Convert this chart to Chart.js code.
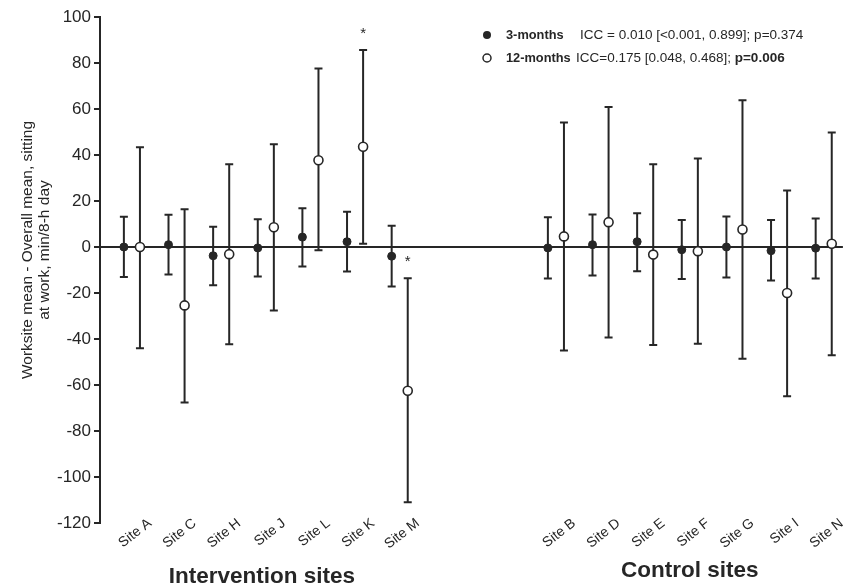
<!DOCTYPE html>
<html>
<head>
<meta charset="utf-8">
<script src="https://cdn.jsdelivr.net/npm/chart.js@4.4.1/dist/chart.umd.min.js"></script>
<style>
  body { margin: 0; background: #fff; }
  #wrap { width: 849px; height: 588px; }
</style>
</head>
<body>
<div id="wrap"><canvas id="chart"></canvas></div>
<script>
// sites, in plot order (intervention first, then control)
const sites = ['Site A', 'Site C', 'Site H', 'Site J', 'Site L', 'Site K', 'Site M',
  'Site B', 'Site D', 'Site E', 'Site F', 'Site G', 'Site I', 'Site N'];
const nIntervention = 7;

// 3-months: mean and 95% CI
const m3 = [0, 1, -3.8, -0.4, 4.3, 2.3, -4, -0.4, 1, 2.3, -1.2, 0, -1.6, -0.5];
const m3Lo = [-13, -12, -16.6, -12.8, -8.5, -10.7, -17.2, -13.7, -12.4, -10.5, -13.9, -13.3, -14.6, -13.7];
const m3Hi = [13.1, 14, 8.8, 12.1, 16.9, 15.3, 9.2, 12.9, 14.1, 14.7, 11.7, 13.3, 11.7, 12.4];

// 12-months: mean and 95% CI
const m12 = [0, -25.4, -3.1, 8.6, 37.7, 43.6, -62.5, 4.6, 10.8, -3.3, -1.8, 7.6, -20, 1.4];
const m12Lo = [-44, -67.6, -42.3, -27.6, -1.4, 1.4, -111, -45, -39.3, -42.6, -42.1, -48.6, -64.9, -47.1];
const m12Hi = [43.4, 16.4, 36, 44.7, 77.6, 85.7, -13.6, 54.1, 60.9, 36, 38.5, 63.8, 24.6, 49.8];

// sites flagged with * (12-months)
const sig12 = ['Site K', 'Site M'];

const groupLabels = ['Intervention sites', 'Control sites'];
const legendRows = [
  { name: '3-months', text: 'ICC = 0.010 [<0.001, 0.899]; p=0.374', bold: '' },
  { name: '12-months', text: 'ICC=0.175 [0.048, 0.468]; ', bold: 'p=0.006' }
];

const yTitle = ['Worksite mean - Overall mean, sitting', 'at work, min/8-h day'];

const FONT = "'Liberation Sans', Arial, sans-serif";
const INK = '#262626';

// slot on the x axis: control group sits after a gap
const pos = (i) => i + 1 + (i >= nIntervention ? 2.5 : 0);
const shift = 0.18;

const pts3 = sites.map((s, i) => ({ x: pos(i) - shift, y: m3[i], lo: m3Lo[i], hi: m3Hi[i] }));
const pts12 = sites.map((s, i) => ({ x: pos(i) + shift, y: m12[i], lo: m12Lo[i], hi: m12Hi[i], star: sig12.includes(s) }));

const errorBars = {
  id: 'errorBars',
  afterLayout(chart) {
    // site names start a little above the bottom of the plot, like the original
    chart.scales.x.top = chart.chartArea.bottom - 8;
  },
  beforeDatasetsDraw(chart) {
    const ctx = chart.ctx;
    const xs = chart.scales.x, ys = chart.scales.y;
    ctx.save();
    ctx.strokeStyle = INK;
    ctx.lineWidth = 2;
    chart.data.datasets.forEach(ds => {
      ds.data.forEach(p => {
        const x = xs.getPixelForValue(p.x);
        const y1 = ys.getPixelForValue(p.hi);
        const y2 = ys.getPixelForValue(p.lo);
        ctx.beginPath();
        ctx.moveTo(x, y1); ctx.lineTo(x, y2);
        ctx.moveTo(x - 4, y1); ctx.lineTo(x + 4, y1);
        ctx.moveTo(x - 4, y2); ctx.lineTo(x + 4, y2);
        ctx.stroke();
      });
    });
    ctx.restore();
  },
  afterDatasetsDraw(chart) {
    const ctx = chart.ctx;
    const xs = chart.scales.x, ys = chart.scales.y;
    ctx.save();
    ctx.fillStyle = INK;
    ctx.font = '15px ' + FONT;
    ctx.textAlign = 'center';
    ctx.textBaseline = 'middle';
    chart.data.datasets.forEach(ds => {
      ds.data.forEach(p => {
        if (!p.star) return;
        ctx.fillText('*', xs.getPixelForValue(p.x), ys.getPixelForValue(p.hi) - 16);
      });
    });
    ctx.restore();
  }
};

const extras = {
  id: 'extras',
  afterDraw(chart) {
    const ctx = chart.ctx;
    const xs = chart.scales.x;
    ctx.save();
    ctx.fillStyle = INK;

    // y title, two lines
    ctx.font = '15.5px ' + FONT;
    ctx.textAlign = 'center';
    ctx.textBaseline = 'middle';
    yTitle.forEach((t, k) => {
      ctx.save();
      ctx.translate(28 + k * 17, 250);
      ctx.rotate(-Math.PI / 2);
      ctx.fillText(t, 0, 0);
      ctx.restore();
    });

    // group labels under the site names
    ctx.font = 'bold 22.5px ' + FONT;
    const mid0 = (xs.getPixelForValue(pos(0)) + xs.getPixelForValue(pos(nIntervention - 1))) / 2;
    const mid1 = (xs.getPixelForValue(pos(nIntervention)) + xs.getPixelForValue(pos(sites.length - 1))) / 2;
    ctx.fillText(groupLabels[0], mid0 - 4, 577);
    ctx.fillText(groupLabels[1], mid1 - 0, 571);

    // legend
    ctx.textAlign = 'left';
    legendRows.forEach((r, k) => {
      const y = 35 + k * 23;
      ctx.beginPath();
      ctx.arc(487, y, 4, 0, Math.PI * 2);
      if (k === 0) { ctx.fillStyle = INK; ctx.fill(); }
      else { ctx.fillStyle = '#fff'; ctx.fill(); ctx.lineWidth = 1.5; ctx.strokeStyle = INK; ctx.stroke(); }
      ctx.fillStyle = INK;
      ctx.font = 'bold 12.8px ' + FONT;
      ctx.fillText(r.name, 506, y);
      const tx = k === 0 ? 580 : 576;
      ctx.font = '13.5px ' + FONT;
      ctx.fillText(r.text, tx, y);
      if (r.bold) {
        const w = ctx.measureText(r.text).width;
        ctx.font = 'bold 13.5px ' + FONT;
        ctx.fillText(r.bold, tx + w, y);
      }
    });
    ctx.restore();
  }
};

new Chart(document.getElementById('chart').getContext('2d'), {
  type: 'scatter',
  data: {
    datasets: [{
      label: '3-months',
      data: pts3,
      pointRadius: 4,
      pointHoverRadius: 4,
      pointBackgroundColor: INK,
      pointBorderColor: INK,
      pointBorderWidth: 1
    }, {
      label: '12-months',
      data: pts12,
      pointRadius: 4.5,
      pointHoverRadius: 4.5,
      pointBackgroundColor: '#fff',
      pointBorderColor: INK,
      pointBorderWidth: 1.6
    }]
  },
  options: {
    responsive: true,
    maintainAspectRatio: false,
    animation: false,
    layout: { padding: { top: 17, right: 4, bottom: 25, left: 0 } },
    plugins: {
      legend: { display: false },
      tooltip: { enabled: false }
    },
    scales: {
      x: {
        type: 'linear',
        min: 0.285,
        max: 16.93,
        afterBuildTicks: (axis) => { axis.ticks = sites.map((s, i) => ({ value: pos(i) })); },
        afterFit: (axis) => { axis.height = 40; },
        grid: { display: false, drawTicks: false },
        border: { display: false },
        ticks: {
          autoSkip: false,
          minRotation: 38,
          maxRotation: 38,
          padding: 0,
          labelOffset: 18,
          color: INK,
          font: { family: FONT, size: 14 },
          callback: (v, i) => sites[i]
        }
      },
      y: {
        min: -120,
        max: 100,
        afterFit: (axis) => { axis.width = 100; },
        border: { display: true, color: INK, width: 2 },
        grid: {
          color: (c) => c.tick && c.tick.value === 0 ? INK : 'rgba(0,0,0,0)',
          lineWidth: 2,
          tickColor: INK,
          tickLength: 6
        },
        ticks: {
          stepSize: 20,
          padding: 3,
          color: INK,
          font: { family: FONT, size: 17 }
        }
      }
    }
  },
  plugins: [errorBars, extras]
});
</script>
</body>
</html>
